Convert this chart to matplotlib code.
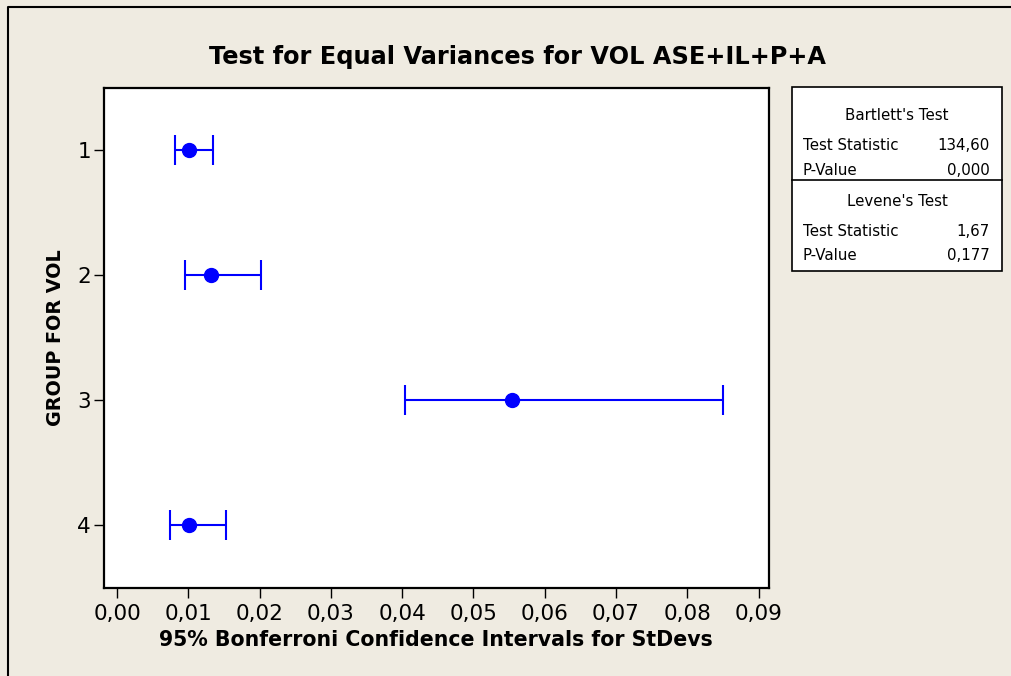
import matplotlib
matplotlib.use("Agg")
import matplotlib.pyplot as plt
from matplotlib.patches import Rectangle
from matplotlib.lines import Line2D

# data
groups = [1, 2, 3, 4]
sd_est = [0.01015, 0.0132, 0.0554, 0.01015]
ci_low = [0.0081, 0.0096, 0.04035, 0.0074]
ci_high = [0.01344, 0.0202, 0.0850, 0.0153]
xticks = [0.00, 0.01, 0.02, 0.03, 0.04, 0.05, 0.06, 0.07, 0.08, 0.09]
bartlett = [("Test Statistic", "134,60"), ("P-Value", "0,000")]
levene = [("Test Statistic", "1,67"), ("P-Value", "0,177")]

bg = "#efebe1"
blue = "#0000ff"

fig = plt.figure(figsize=(10.11, 6.76), dpi=100, facecolor=bg)
ax = fig.add_axes([0.1024, 0.1309, 0.6578, 0.7396])
ax.set_facecolor("white")

err_lo = [m - l for m, l in zip(sd_est, ci_low)]
err_hi = [h - m for m, h in zip(sd_est, ci_high)]
ax.errorbar(sd_est, groups, xerr=[err_lo, err_hi], fmt="o", color=blue,
            ms=10, lw=1.5, capsize=11, capthick=1.5, elinewidth=1.5)

ax.set_xlim(-0.0019, 0.0914)
ax.set_ylim(4.5, 0.5)
ax.set_xticks(xticks)
ax.set_xticklabels([("%.2f" % t).replace(".", ",") for t in xticks])
ax.set_yticks(groups)
ax.set_yticklabels([str(g) for g in groups])
ax.tick_params(axis="both", labelsize=15.5, direction="out", length=7, width=1)
ax.tick_params(axis="x", pad=5)
ax.tick_params(axis="y", pad=2)
for s in ax.spines.values():
    s.set_linewidth(1.6)

ax.set_xlabel("95% Bonferroni Confidence Intervals for StDevs", fontsize=14.8,
              fontweight="bold", labelpad=4)
ax.set_ylabel("GROUP FOR VOL", fontsize=13.8, fontweight="bold", labelpad=9)

fig.text(0.512, 0.915, "Test for Equal Variances for VOL ASE+IL+P+A",
         ha="center", va="center", fontsize=17.3, fontweight="bold")

# stats box on the right
W, H = 1011, 676
def fx(px):
    return px / W
def fy(py):
    return 1 - py / H

box = Rectangle((fx(792), fy(271)), fx(1002) - fx(792), fy(87) - fy(271),
                transform=fig.transFigure, facecolor="white",
                edgecolor="black", lw=1.2)
fig.patches.append(box)
fig.lines.append(Line2D([fx(792), fx(1002)], [fy(180), fy(180)],
                        transform=fig.transFigure, color="black", lw=1.2))

fs = 10.8
fig.text(fx(897), fy(115), "Bartlett's Test", ha="center", va="center", fontsize=fs)
for (lab, val), y in zip(bartlett, [146, 170]):
    fig.text(fx(803), fy(y), lab, ha="left", va="center", fontsize=fs)
    fig.text(fx(990), fy(y), val, ha="right", va="center", fontsize=fs)
fig.text(fx(897), fy(201), "Levene's Test", ha="center", va="center", fontsize=fs)
for (lab, val), y in zip(levene, [231, 256]):
    fig.text(fx(803), fy(y), lab, ha="left", va="center", fontsize=fs)
    fig.text(fx(990), fy(y), val, ha="right", va="center", fontsize=fs)

# outer frame (left and top edges visible)
fig.lines.append(Line2D([fx(8), fx(8), fx(1011)], [fy(676), fy(7), fy(7)],
                        transform=fig.transFigure, color="black", lw=1.5))

fig.savefig("out.png", dpi=100, facecolor=bg)
